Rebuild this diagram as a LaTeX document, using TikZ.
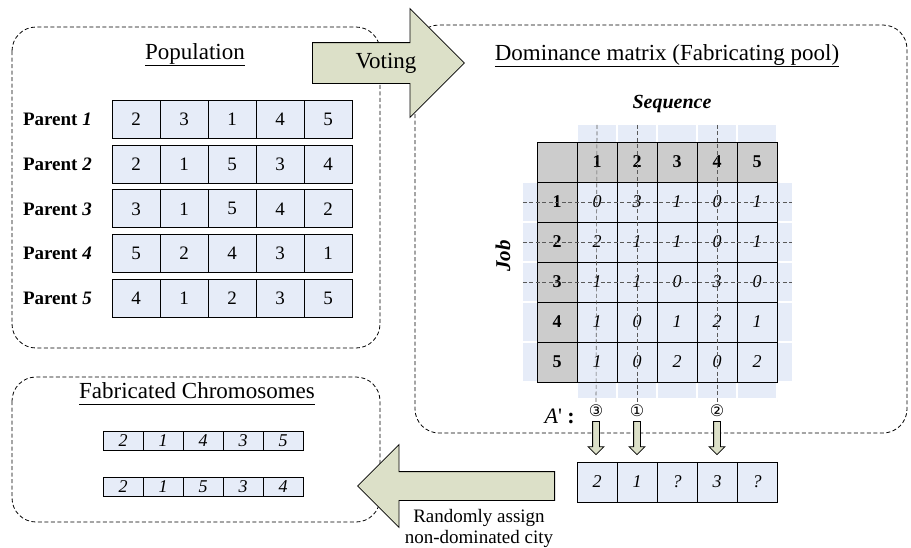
\documentclass[tikz,border=0pt]{standalone}
\usepackage{fontspec}
\setmainfont{Liberation Serif}
\newfontfamily\circfont{DejaVu Sans}
\usepackage{tikz}
\usetikzlibrary{calc}
\usetikzlibrary{shapes.arrows}
\definecolor{cellblue}{RGB}{230,236,248}
\definecolor{headgray}{RGB}{204,204,204}
\definecolor{arrowolive}{RGB}{220,224,200}
\newcommand{\fs}[1]{\fontsize{#1}{#1}\selectfont}
\tikzset{
    region/.style = {draw, dash pattern=on 4pt off 2.5pt,
        rounded corners=24pt, line width=0.8pt},
    title/.style = {font=\fs{23}},
    parent/.style = {anchor=east, inner sep=0pt, font=\fs{19}},
    cell/.style = {draw, rectangle, fill=cellblue, line width=0.8pt,
        minimum width=48pt,
        minimum height=38pt, inner sep=0pt, font=\fs{19}},
    mcell/.style = {cell, minimum width=40pt, minimum height=40pt, font=\fs{18}\itshape},
    hcell/.style = {mcell, fill=headgray, font=\fs{18}\bfseries},
    ccell/.style = {cell, minimum width=40pt, minimum height=19pt, font=\fs{18}\itshape},
    strip/.style = {fill=cellblue, inner sep=0pt},
    guide/.style = {draw, dash pattern=on 4pt off 2.5pt, black!65, line width=0.6pt},
    circ/.style = {inner sep=0pt, font=\circfont\fs{16}},
    fatarrow/.style = {single arrow, draw, fill=arrowolive, line width=0.8pt,
        inner xsep=0pt, single arrow tip angle=90, anchor=tail},
    drop/.style = {fatarrow, shape border rotate=270, minimum height=33pt,
        inner xsep=3pt, inner ysep=0pt, single arrow head extend=4.5pt}
}
\begin{document}
\begin{tikzpicture}[x=1pt, y=-1pt]
    \useasboundingbox (0,0) rectangle (911,547);
    % dashed regions
    \draw [region] (12,27) rectangle (380,348);
    \draw [region] (415,25) rectangle (907,433);
    \draw [region] (12,377) rectangle (380,522);
    \node [title, anchor=base] (poptitle) at (195,59) {\underline{Population\vphantom{p}}};
    \node [title, anchor=base] (domtitle) at (667,60) {\underline{Dominance matrix (Fabricating pool)}};
    \node [title, anchor=base] (fabtitle) at (197,398) {\underline{Fabricated Chromosomes\vphantom{p}}};
    % population
    \foreach \vals [count=\i] in {{2,3,1,4,5},{2,1,5,3,4},{3,1,5,4,2},{5,2,4,3,1},{4,1,2,3,5}} {
        \node [parent] (par\i) at (92,{119+44.9*(\i-1)}) {\textbf{Parent \textit{\i}}};
        \foreach \v [count=\j] in \vals
            \node [cell] (p\i\j) at ({136+48*(\j-1)},{119+44.9*(\i-1)}) {\v};
    }
    % dominance matrix
    \foreach \j in {1,...,5} {
        \node [strip, minimum width=38pt, minimum height=17pt] (t\j) at ({557+40*\j},133.5) {};
        \node [strip, minimum width=38pt, minimum height=16pt] (b\j) at ({557+40*\j},390) {};
        \node [strip, minimum width=14pt, minimum height=38pt] (l\j) at (530,{162+40*\j}) {};
        \node [strip, minimum width=15pt, minimum height=38pt] (r\j) at (784.5,{162+40*\j}) {};
    }
    \node [hcell] (m00) at (557,162) {};
    \foreach \j in {1,...,5}
        \node [hcell] (m0\j) at ({557+40*\j},162) {\j};
    \foreach \vals [count=\i] in {{0,3,1,0,1},{2,1,1,0,1},{1,1,0,3,0},{1,0,1,2,1},{1,0,2,0,2}} {
        \node [hcell] (m\i0) at (557,{162+40*\i}) {\i};
        \foreach \v [count=\j] in \vals
            \node [mcell] (m\i\j) at ({557+40*\j},{162+40*\i}) {\v};
    }
    \node [font=\fs{20}\bfseries\itshape] (seq) at (672,104) {Sequence};
    \node [font=\fs{21}\bfseries\itshape, rotate=90] (job) at (503,256) {Job};
    % picked columns
    \node [circ] (c3) at (596,411) {③};
    \node [circ] (c1) at (637,411) {①};
    \node [circ] (c2) at (717,411) {②};
    \node [font=\fs{22}, anchor=base east, inner sep=0pt] (aprime) at (575,423)
        {\textit{A}\textquotesingle\ \textbf{:}};
    \draw [guide] (t1.north) -- (c3.north);
    \draw [guide] (t2.north) -- (c1.north);
    \draw [guide] (t4.north) -- (c2.north);
    \foreach \i in {1,2,3}
        \draw [guide] (l\i.west) -- (r\i.east);
    \node [drop] (d3) at ($(c3.south)+(0,4)$) {};
    \node [drop] (d1) at ($(c1.south)+(0,4)$) {};
    \node [drop] (d2) at ($(c2.south)+(0,4)$) {};
    \foreach \v [count=\j] in {2,1,?,3,?}
        \node [mcell] (a\j) at ({557+40*\j},482) {\v};
    % fabricated chromosomes
    \foreach \vals [count=\i] in {{2,1,4,3,5},{2,1,5,3,4}}
        \foreach \v [count=\j] in \vals
            \node [ccell] (f\i\j) at ({123+40*(\j-1)},{440.5+46.5*(\i-1)}) {\v};
    % block arrows
    \node [fatarrow, minimum height=152pt, inner ysep=20pt,
        single arrow head extend=34pt] (vote) at (312,63) {};
    \node [title] (votetext) at (386,63) {Voting};
    \node [fatarrow, shape border rotate=180, minimum height=197pt, inner ysep=14pt,
        single arrow head extend=27pt] (assign) at (555,486) {};
    \node [align=center, font=\fontsize{19}{21}\selectfont] (note) at (479,528)
        {Randomly assign\\non-dominated city};
\end{tikzpicture}
\end{document}
